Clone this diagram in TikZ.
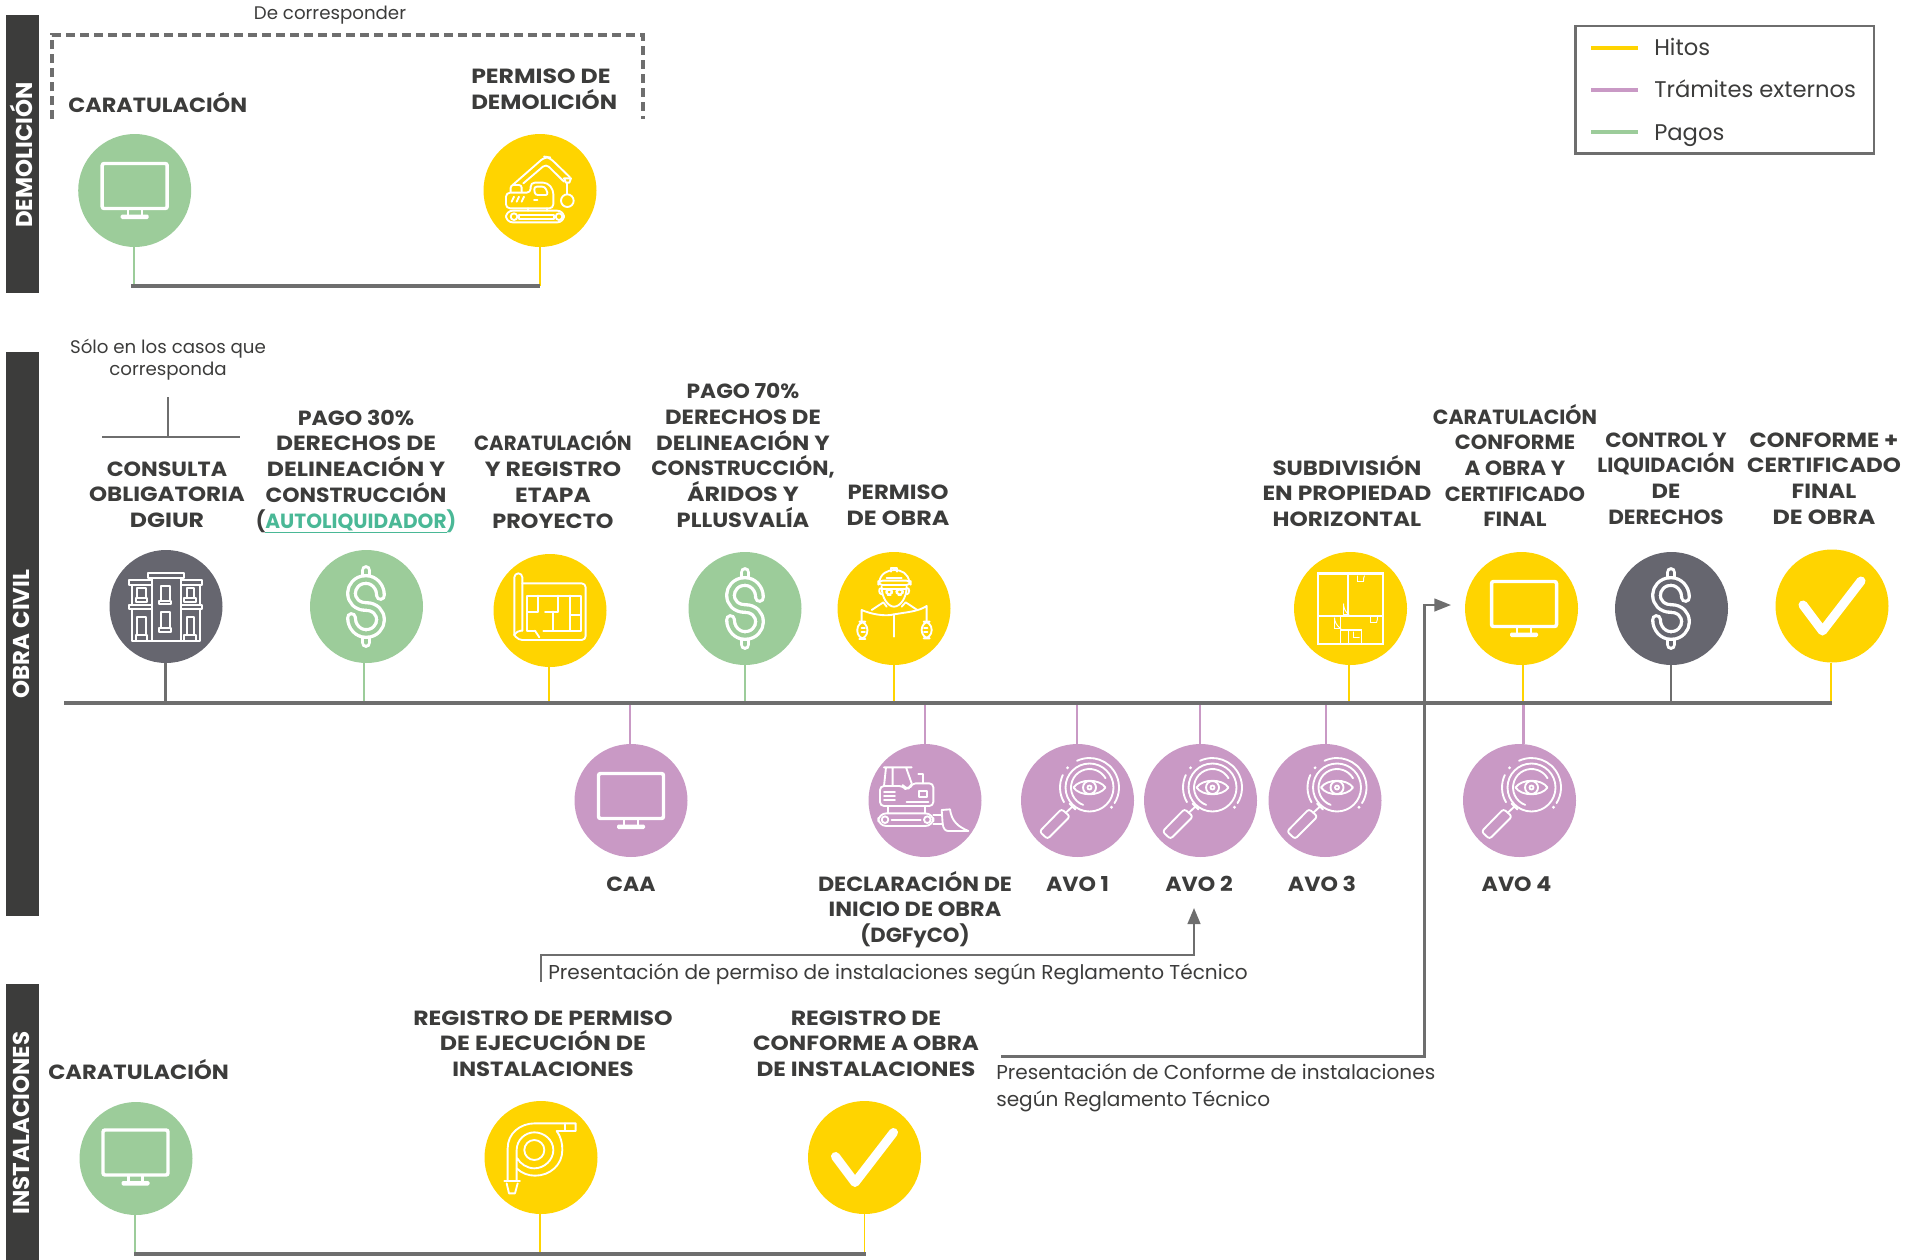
\documentclass[tikz,border=0pt]{standalone}
\usepackage{fontspec}
\setmainfont{Poppins}
\usetikzlibrary{arrows.meta,calc}
\definecolor{cgreen}{HTML}{9CCC9A}
\definecolor{cyellow}{HTML}{FFD400}
\definecolor{cpurple}{HTML}{C999C5}
\definecolor{cdark}{HTML}{66666F}
\definecolor{cbar}{HTML}{3C3C3B}
\definecolor{cline}{HTML}{6E6E6E}
\definecolor{cteal}{HTML}{4AB896}
\newcommand{\stm}[3]{\draw[#1] ($(#2.south)+(#3,0)$) -- ($(#2.south |- tl)+(#3,0)$);}
\newcommand{\stn}[3]{\draw[#1] ($(#2.north)+(#3,0)$) -- ($(#2.north |- tl)+(#3,0)$);}
\newcommand{\sx}[2]{\scalebox{#1}[1]{#2}}
\tikzset{
 x=0.75pt,y=-0.75pt,
 disc/.style={circle,minimum size=84.75pt,inner sep=0pt,fill=#1},
 sidebar/.style={fill=cbar,minimum width=24.75pt,inner sep=0pt,anchor=center},
 sidetext/.style={rotate=90,text=white,font=\fontsize{17.2}{20}\selectfont\bfseries,inner sep=0pt},
 lab/.style={align=center,text=cbar,inner sep=0pt,font=\fontsize{15.4}{19.3}\selectfont\bfseries},
 note/.style={text=cbar,inner sep=0pt,font=\fontsize{15.05}{20.3}\selectfont},
 small/.style={text=cbar,inner sep=0pt,align=center,font=\fontsize{13.66}{16.5}\selectfont},
 legtxt/.style={text=cbar,inner sep=0pt,anchor=west,font=\fontsize{17}{20}\selectfont},
 stemG/.style={cgreen,line width=1.7pt},
 stemY/.style={cyellow,line width=1.7pt},
 stemP/.style={cpurple,line width=1.7pt},
 stemD/.style={cline,line width=1.7pt},
 rail/.style={cline,line width=2.3pt},
 flow/.style={cline,line width=1.7pt},
 ic/.style={white,line width=1.4pt,line cap=round,line join=round},
 monitor/.pic={
  \draw[white,line width=2.6pt,rounded corners=1.5pt] (-32.5,-27) rectangle (32.5,18);
  \draw[ic,line width=1.7pt] (-7,18)--(-7,25) (7,18)--(7,25);
  \fill[white,rounded corners=1pt] (-14,24) rectangle (14,28.5);
 },
 dollar/.pic={
  \draw[white,line width=2.5pt,double=#1,double distance=3.2pt,line cap=round] (0,-28)--(0,-36);
  \draw[white,line width=2.5pt,double=#1,double distance=3.2pt,line cap=round] (0,28)--(0,36);
  \draw[white,line width=2.5pt,double=#1,double distance=3.2pt,line cap=round,line join=round]
   (14.5,-11) .. controls (14.5,-20) and (8,-27) .. (0,-27) .. controls (-9,-27) and (-14.5,-20) .. (-14.5,-13.5)
   .. controls (-14.5,-6) and (-9,0) .. (0,0) .. controls (9,0) and (14.5,6) .. (14.5,13.5)
   .. controls (14.5,20) and (9,27) .. (0,27) .. controls (-8,27) and (-14.5,20) .. (-14.5,11);
 },
 tick/.pic={
  \draw[white,line width=6.8pt,line cap=round,line join=round] (-29,-1) -- (-9.5,25) -- (29,-25);
 },
 lens/.pic={
  \draw[ic] (12,-13) circle[radius=24];
  \draw[ic] ([shift={(110:18.5)}]12,-13) arc[start angle=110,end angle=330,radius=18.5];
  \draw[ic] ([shift={(-115:29.5)}]12,-13) arc[start angle=-115,end angle=32,radius=29.5];
  \draw[ic] ([shift={(150:29.5)}]12,-13) arc[start angle=150,end angle=205,radius=29.5];
  \fill[white] ([shift={(42:29.5)}]12,-13) circle[radius=1.6];
  \fill[white] ([shift={(222:29.5)}]12,-13) circle[radius=1.6];
  \draw[ic] (-4,-13) .. controls (2,-22) and (22,-22) .. (28,-13) .. controls (22,-4) and (2,-4) .. (-4,-13) -- cycle;
  \draw[ic] (12,-13) circle[radius=6.5];
  \draw[ic] (12,-13) circle[radius=2];
  \draw[ic,rounded corners=2pt] (-16,8.5) -- (-7.5,16) -- (-30,38.5) -- (-38,31) -- cycle;
  \draw[ic] (-11.5,12) -- (-5,6) (-8,3) -- (-2,9);
 },
 excavator/.pic={\begin{scope}[shift={(-50,-50.5)},scale=1/3]
  \draw[ic,rounded corners=5pt] (48,212) rectangle (222,247);
  \draw[ic] (72,230) circle[radius=10] (207,230) circle[radius=10];
  \draw[ic] (88,224) rectangle (192,238);
  \draw[ic] (115,205)--(115,212) (170,205)--(170,212);
  \draw[ic,rounded corners=3pt] (48,158)--(122,158)--(122,128)--(172,128)--(190,150)--(190,205)--(48,205)--cycle;
  \draw[ic,rounded corners=2pt] (132,140)--(165,140)--(175,165)--(135,165)--cycle;
  \draw[ic] (65,185)--(72,170) (80,185)--(87,170) (95,185)--(102,170) (132,180)--(142,180);
  \draw[ic,rounded corners=2pt] (62,155)--(62,135)--(95,135)--(95,155);
  \draw[ic,rounded corners=4pt] (68,135)--(165,50)--(178,52)--(240,112);
  \draw[ic,rounded corners=3pt] (100,130)--(168,72)--(222,125);
  \draw[ic] (222,115)--(243,115)--(238,128)--(228,128)--cycle;
  \draw[ic] (232,128)--(232,162);
  \draw[ic] (232,182) circle[radius=19];
 \end{scope}},
 building/.pic={\begin{scope}[shift={(-51,-51.5)},scale=1/3]
  \draw[ic] (110,68) rectangle (197,258);
  \draw[ic] (98,55) rectangle (207,68);
  \draw[ic] (42,75) rectangle (110,90) (42,150) rectangle (110,162);
  \draw[ic] (197,75) rectangle (262,90) (197,150) rectangle (262,162);
  \draw[ic] (50,90)--(50,150) (255,90)--(255,150) (50,162)--(50,258)--(255,258)--(255,162);
  \draw[ic] (67,100) rectangle (92,128) (62,128) rectangle (97,140);
  \draw[ic] (137,93) rectangle (165,137) (132,137) rectangle (168,147);
  \draw[ic] (215,100) rectangle (238,128) (208,128) rectangle (243,140);
  \draw[ic] (137,172) rectangle (165,218) (132,218) rectangle (168,230);
  \draw[ic] (67,185) rectangle (92,240) (62,240) rectangle (97,258);
  \draw[ic] (215,185) rectangle (238,240) (208,240) rectangle (243,258);
 \end{scope}},
 blueprint/.pic={\begin{scope}[shift={(-55,-50.5)},scale=1/3]
  \draw[ic,rounded corners=3pt] (58,225)--(58,40)--(82,40)--(82,212);
  \draw[ic,rounded corners=3pt] (82,70)--(272,70)--(272,240)--(70,240)--(58,225);
  \draw[ic,rounded corners=3pt] (58,225)--(66,212)--(82,212);
  \draw[ic] (120,212)--(97,212)--(97,107)--(258,107)--(258,212)--(145,212);
  \draw[ic] (120,212)--(133,232);
  \draw[ic] (130,107)--(130,155)--(97,155);
  \draw[ic] (190,107)--(190,155)--(150,155);
  \draw[ic] (225,107)--(225,212) (175,155)--(175,212) (225,165)--(258,165);
 \end{scope}},
 engineer/.pic={\begin{scope}[shift={(-54,-53.5)},scale=1/3]
  \draw[ic] (118,82) .. controls (120,55) and (145,45) .. (162,45) .. controls (185,45) and (205,55) .. (208,82);
  \draw[ic,rounded corners=3pt] (115,77) rectangle (212,90);
  \draw[ic] (152,50)--(152,38)--(172,38)--(172,50) (140,68)--(185,68);
  \draw[ic] (125,95) .. controls (125,130) and (145,155) .. (162,155) .. controls (180,155) and (200,130) .. (200,95);
  \draw[ic] (125,100) .. controls (115,95) and (115,118) .. (125,118) (200,100) .. controls (210,95) and (210,118) .. (200,118);
  \draw[ic,rounded corners=3pt] (138,103)--(157,103)--(155,120)--(140,120)--cycle;
  \draw[ic,rounded corners=3pt] (168,103)--(190,103)--(187,120)--(171,120)--cycle;
  \draw[ic] (127,103)--(198,103);
  \draw[ic] (95,165)--(130,142)--(140,155) (232,165)--(197,142)--(185,155);
  \draw[ic] (65,198)--(65,165) .. controls (95,178) and (135,185) .. (163,178) .. controls (195,172) and (235,170) .. (260,153)--(260,198);
  \draw[ic] (163,178)--(163,245);
  \draw[ic,rounded corners=6pt] (52,200) rectangle (82,252);
  \draw[ic,rounded corners=6pt] (245,200) rectangle (275,250);
  \draw[ic] (65,218)--(75,218) (65,230)--(75,230) (252,218)--(262,218) (252,230)--(262,230);
 \end{scope}},
 floorplan/.pic={
  \draw[white,line width=1.8pt] (-32.5,-35) rectangle (32.5,35.5);
  \draw[white,line width=1.4pt] (-2.5,-35)--(-2.5,7.5) (-32.5,7.5)--(32.5,7.5) (-10,7.5)--(-10,35.5)
   (-10,21.5)--(11,21.5)--(11,35.5) (-2,21.5)--(-2,35.5);
  \draw[white,line width=.7pt] (7,-33)--(7,-27)--(13,-27) .. controls (13,-30) and (13,-31) .. (14,-33)
   (-7,-5)--(-7,6)--(-2,6) .. controls (-5,3) and (-7,0) .. (-7,-5)
   (20,8)--(20,14)--(26,14) .. controls (27,12) and (27,10) .. (27,8)
   (-16,9)--(-16,20)--(-10,20) .. controls (-14,17) and (-16,13) .. (-16,9)
   (3,23)--(3,29)--(9,29);
 },
 dozer/.pic={\begin{scope}[shift={(-55,-50.5)},scale=1/3]
  \draw[ic,rounded corners=6pt] (25,190) rectangle (190,228);
  \draw[ic] (45,209) circle[radius=10] (172,209) circle[radius=10];
  \draw[ic] (65,209)--(152,209);
  \draw[ic,rounded corners=3pt] (30,108)--(100,108)--(105,115)--(120,115)--(125,100)--(190,100)--(190,168)--(30,168)--cycle;
  \draw[ic] (42,52)--(125,52) (48,52)--(42,108) (68,52)--(68,108) (108,52)--(125,100);
  \draw[ic] (145,72)--(158,72)--(158,100);
  \draw[ic] (42,125)--(75,125) (42,137)--(75,137) (42,150)--(75,150) (110,155)--(175,155);
  \draw[ic] (148,122) rectangle (172,140);
  \draw[ic] (55,168)--(55,190) (165,168)--(165,190);
  \draw[ic] (215,180)--(240,178) .. controls (245,215) and (265,230) .. (295,243)--(235,243) .. controls (225,243) and (220,235) .. (218,222)--cycle;
  \draw[ic] (190,195)--(215,195) (190,222)--(218,222);
 \end{scope}},
 hose/.pic={\begin{scope}[shift={(-56,-52.5)},scale=1/3]
  \draw[ic] (148,135) circle[radius=30];
  \draw[ic] (95,228)--(95,135) .. controls (95,105) and (120,82) .. (148,82) .. controls (178,82) and (205,105) .. (205,135) .. controls (205,165) and (178,190) .. (148,190) .. controls (125,190) and (105,175) .. (97,160);
  \draw[ic] (68,228)--(68,130) .. controls (68,85) and (105,55) .. (150,55)--(272,55)--(272,78)--(215,78) .. controls (228,95) and (232,115) .. (232,135) .. controls (232,180) and (195,212) .. (150,212) .. controls (130,212) and (110,205) .. (95,190);
  \draw[ic] (240,55)--(240,78);
  \draw[ic] (58,228)--(105,228) (65,235)--(72,265)--(90,265)--(98,235);
 \end{scope}},
}
\begin{document}
\begin{tikzpicture}
\useasboundingbox (0,0) rectangle (1924,1260);
% sidebars
\node[sidebar,minimum height=209pt] (barD) at (22.5,154) {};
\node[sidebar,minimum height=423pt] (barO) at (22.5,634) {};
\node[sidebar,minimum height=207pt] (barI) at (22.5,1122) {};
\node[sidetext] (tD) at (21,155) {DEMOLICIÓN};
\node[sidetext] (tO) at (21,634) {OBRA CIVIL};
\node[sidetext] (tI) at (21,1123) {INSTALACIONES};
% legend
\node[draw=cline,line width=1.6pt,inner sep=0pt,minimum width=224pt,minimum height=95.6pt] (legbox) at (1724.75,89.75) {};
\coordinate (h1) at (1591,48); \coordinate (h2) at (1638,48);
\coordinate (t1) at (1591,90); \coordinate (t2) at (1638,90);
\coordinate (p1) at (1591,132); \coordinate (p2) at (1638,132);
\draw[cyellow,line width=2.6pt] (h1)--(h2);
\draw[cpurple,line width=2.6pt] (t1)--(t2);
\draw[cgreen,line width=2.6pt] (p1)--(p2);
\node[legtxt] (lh) at (1654,47) {Hitos};
\node[legtxt] (lt) at (1654,89) {Trámites externos};
\node[legtxt] (lp) at (1654,135.5) {Pagos};
% demolicion
\coordinate (dd1) at (52,119); \coordinate (dd2) at (52,35); \coordinate (dd3) at (643,35); \coordinate (dd4) at (643,119);
\draw[cline,line width=2.4pt,dash pattern=on 6.5pt off 4pt] (dd1)--(dd2)--(dd3)--(dd4);
\node[small] (tDe) at (330,15.5) {De corresponder};
\node[lab,anchor=west] (tCar) at (68,102.5) {\sx{1.09}{CARATULACIÓN}};
\node[lab,anchor=west,align=left] (tPer) at (471,89.5) {\sx{1.148}{PERMISO DE}\\\sx{1.12}{DEMOLICIÓN}};
\node[disc=cgreen] (d1) at (134.7,190.5) {};
\node[disc=cyellow] (d2) at (540,190.5) {};
\pic at (134.7,190.5) {monitor};
\pic at (540,190.5) {excavator};
\coordinate (dl) at (131,286); \coordinate (dr) at (540,286);
\draw[stemG,line width=1.5pt] ($(d1.south)+(-1,0)$) -- ($(d1.south |- dl)+(-1,0)$);
\draw[stemY,line width=1.5pt] (d2.south) -- (d2.south |- dl);
\draw[rail] (dl)--(dr);
% obra civil
\coordinate (tl) at (64,703); \coordinate (tr) at (1832,703);
\node[disc=cdark] (c1) at (166,606.5) {};
\node[disc=cgreen] (c2) at (366.5,606.5) {};
\node[disc=cyellow] (c3) at (550,610.5) {};
\node[disc=cgreen] (c4) at (745,608.5) {};
\node[disc=cyellow] (c5) at (894,608.5) {};
\node[disc=cyellow] (c6) at (1350.5,608.5) {};
\node[disc=cyellow] (c7) at (1521.5,608.5) {};
\node[disc=cdark] (c8) at (1671.5,608.5) {};
\node[disc=cyellow] (c9) at (1832,606) {};
\node[disc=cpurple] (b1) at (631,800.5) {};
\node[disc=cpurple] (b2) at (925,800.5) {};
\node[disc=cpurple] (b3) at (1077.5,800.5) {};
\node[disc=cpurple] (b4) at (1200.5,800.5) {};
\node[disc=cpurple] (b5) at (1325,800.5) {};
\node[disc=cpurple] (b6) at (1519.5,800.5) {};
\pic at (166,606.5) {building};
\pic at (366,606.5) {dollar=cgreen};
\pic at (550,610.5) {blueprint};
\pic at (745,608.5) {dollar=cgreen};
\pic at (894,608.5) {engineer};
\pic at (1350.5,608.5) {floorplan};
\pic at (1524,608.5) {monitor};
\pic at (1671,608.5) {dollar=cdark};
\pic at (1832,606) {tick};
\pic at (631,800.5) {monitor};
\pic at (925,800.5) {dozer};
\pic at (1077.5,800.5) {lens};
\pic at (1200.5,800.5) {lens};
\pic at (1325,800.5) {lens};
\pic at (1519.5,800.5) {lens};
\stm{stemD}{c1}{-.4}
\stm{stemG}{c2}{-2.5}
\stm{stemY}{c3}{-1}
\stm{stemG}{c4}{0}
\stm{stemY}{c5}{0}
\stm{stemY}{c6}{-1.5}
\stm{stemY}{c7}{1.5}
\stm{stemD}{c8}{-.5}
\stm{stemY}{c9}{-1}
\stn{stemP}{b1}{-1}
\stn{stemP}{b2}{0}
\stn{stemP}{b3}{-.5}
\stn{stemP}{b4}{-.5}
\stn{stemP}{b5}{1}
\stn{stemP}{b6}{4}
\draw[rail] (tl)--(tr);
% obra civil labels
\node[small] (tSolo) at (168,360) {Sólo en los casos que\\corresponda};
\coordinate (b0) at (168,397); \coordinate (b1l) at (102,437); \coordinate (b1r) at (240,437);
\draw[flow] (b0) -- (b0 |- b1l);
\draw[flow] (b1l)--(b1r);
\node[lab] (l1) at (167,494.5) {\sx{1.08}{CONSULTA}\\\sx{1.12}{OBLIGATORIA}\\\sx{1.15}{DGIUR}};
\node[lab] (l2) at (356,471.5) {\sx{1.08}{PAGO 30\%}\\\sx{1.14}{DERECHOS DE}\\\sx{1.15}{DELINEACIÓN Y}\\\sx{1.07}{CONSTRUCCIÓN}\\\sx{.98}{(\textcolor{cteal}{\underline{AUTOLIQUIDADOR})}}};
\node[lab] (l3) at (553,479.5) {\sx{.96}{CARATULACIÓN}\\\sx{1.15}{Y REGISTRO}\\\sx{1.14}{ETAPA}\\\sx{1.09}{PROYECTO}};
\node[lab] (l4) at (743,455.5) {\sx{1.06}{PAGO 70\%}\\\sx{1.11}{DERECHOS DE}\\\sx{1.12}{DELINEACIÓN Y}\\\sx{1.05}{CONSTRUCCIÓN,}\\\sx{1.16}{ÁRIDOS Y}\\\sx{1.10}{PLLUSVALÍA}};
\node[lab] (l5) at (898,505) {\sx{1.11}{PERMISO}\\\sx{1.16}{DE OBRA}};
\node[lab] (l6) at (1347,491) {\sx{1.12}{SUBDIVISIÓN}\\\sx{1.14}{EN PROPIEDAD}\\\sx{1.13}{HORIZONTAL}};
\node[lab] (l7) at (1515,465.5) {CARATULACIÓN\\\sx{1.02}{CONFORME}\\\sx{1.05}{A OBRA Y}\\\sx{1.02}{CERTIFICADO}\\\sx{1.10}{FINAL}};
\node[lab] (l8) at (1666,478.5) {\sx{1.04}{CONTROL Y}\\\sx{1.01}{LIQUIDACIÓN}\\\sx{1.1}{DE}\\\sx{1.05}{DERECHOS}};
\node[lab] (l9) at (1824,478.5) {\sx{1.1}{CONFORME +}\\\sx{1.12}{CERTIFICADO}\\\sx{1.12}{FINAL}\\\sx{1.16}{DE OBRA}};
\node[lab] (m1) at (631,884) {\sx{1.07}{CAA}};
\node[lab] (m2) at (915,909.5) {\sx{1.085}{DECLARACIÓN DE}\\\sx{1.09}{INICIO DE OBRA}\\\sx{1.03}{(DGFyCO)}};
\node[lab] (m3) at (1077.5,884) {\sx{1.08}{AVO 1}};
\node[lab] (m4) at (1199,884) {\sx{1.08}{AVO 2}};
\node[lab] (m5) at (1322,884) {\sx{1.08}{AVO 3}};
\node[lab] (m6) at (1516.5,884) {\sx{1.08}{AVO 4}};
% instalaciones
\node[lab,anchor=west] (iCar) at (48,1070) {\sx{1.1}{CARATULACIÓN}};
\node[lab] (i2) at (543,1043.5) {\sx{1.147}{REGISTRO DE PERMISO}\\\sx{1.156}{DE EJECUCIÓN DE}\\\sx{1.11}{INSTALACIONES}};
\node[lab] (i3) at (866,1043.5) {\sx{1.15}{REGISTRO DE}\\\sx{1.13}{CONFORME A OBRA}\\\sx{1.13}{DE INSTALACIONES}};
\node[disc=cgreen] (e1) at (136,1158.5) {};
\node[disc=cyellow] (e2) at (541,1157.5) {};
\node[disc=cyellow] (e3) at (864.5,1157.5) {};
\pic at (135.5,1157) {monitor};
\pic at (541,1157.5) {hose};
\pic at (864.5,1157.5) {tick};
\coordinate (il) at (134,1254); \coordinate (ir) at (866,1254);
\draw[stemG,line width=1.3pt] ($(e1.south)+(-1,0)$) -- ($(e1.south |- il)+(-1,0)$);
\draw[stemY,line width=1.3pt] ($(e2.south)+(-1,0)$) -- ($(e2.south |- il)+(-1,0)$);
\draw[stemY,line width=1.3pt] (e3.south) -- (e3.south |- il);
\draw[rail] (il)--(ir);
% flows
\coordinate (f1) at (541,982); \coordinate (f2) at (541,955); \coordinate (f3) at (1194,955); \coordinate (f4) at (1194,908);
\draw[flow,-{Triangle[length=12pt,width=9.5pt]}] (f1)--(f2)--(f3)--(f4);
\node[note,anchor=west] (fn1) at (548,974.5) {Presentación de permiso de instalaciones según Reglamento Técnico};
\coordinate (g1) at (1001,1056.5); \coordinate (g2) at (1424.5,1056.5); \coordinate (g3) at (1424.5,605); \coordinate (g4) at (1451,605);
\draw[flow,-{Triangle[length=12.5pt,width=9.5pt]}] (g1)--(g2)--(g3)--(g4);
\node[note,anchor=north west,align=left] (fn2) at (996,1063) {Presentación de Conforme de instalaciones\\según Reglamento Técnico};
\end{tikzpicture}
\end{document}
